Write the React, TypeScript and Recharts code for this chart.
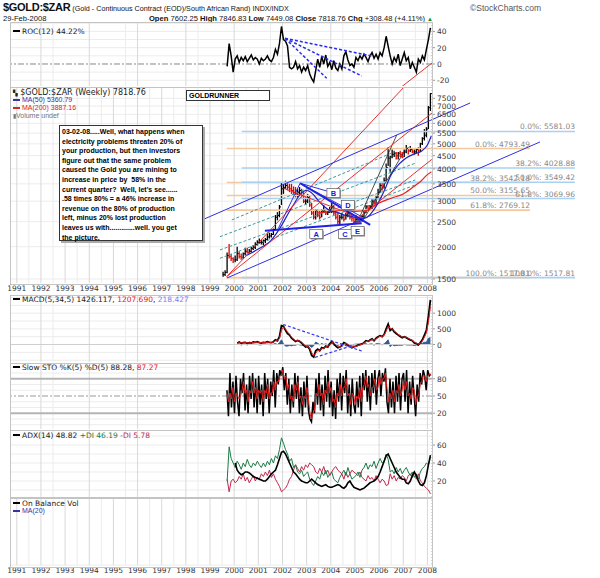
import React from "react";
import {
  ComposedChart,
  Line,
  Area,
  Bar,
  Scatter,
  XAxis,
  YAxis,
  CartesianGrid,
  ReferenceLine,
  ReferenceDot,
} from "recharts";

// ---- time axis ----
const T0 = 1990.76;
const T1 = 2008.19;
const years = [1991, 1992, 1993, 1994, 1995, 1996, 1997, 1998, 1999, 2000, 2001, 2002, 2003, 2004, 2005, 2006, 2007, 2008];
const halfYears = years.slice(0, -1).map((y) => y + 0.5);

// ---- weekly price, read monthly (Jul 1999 .. Feb 2008) ----
const priceHigh = [
  1600, 1620, 1900, 2050, 1870, 1820,
  1850, 2000, 1920, 1880, 1900, 1980, 1980, 1960, 2000, 2030, 2080, 2120,
  2150, 2120, 2130, 2160, 2250, 2260, 2260, 2350, 2650, 2720, 2900, 3550,
  3500, 3600, 3550, 3500, 3500, 3420, 3400, 3350, 3400, 3350, 3250, 3100,
  3200, 3150, 2950, 2800, 2800, 2800, 2750, 2800, 2900, 2800, 2800, 2850,
  2950, 2900, 2800, 2700, 2650, 2700, 2650, 2700, 2750, 2700, 2650, 2600,
  2650, 2600, 2600, 2650, 2750, 2900, 2900, 2900, 3050, 3050, 3150, 3350,
  3550, 3550, 3700, 4200, 4850, 4500, 4750, 4700, 4650, 4650, 4700, 4650,
  4750, 4950, 4850, 4900, 4800, 4750, 4800, 4850, 5050, 5300, 5700, 5800,
  7000, 7850,
];
const priceLow = [
  1530, 1540, 1580, 1800, 1760, 1730,
  1740, 1760, 1800, 1780, 1790, 1850, 1880, 1880, 1900, 1940, 1960, 2020,
  2050, 2040, 2030, 2060, 2120, 2150, 2170, 2220, 2330, 2530, 2600, 2900,
  3200, 3350, 3300, 3250, 3200, 3150, 3100, 3100, 3150, 3100, 2950, 2900,
  2950, 2850, 2650, 2550, 2550, 2600, 2550, 2600, 2700, 2650, 2650, 2700,
  2700, 2650, 2550, 2450, 2450, 2550, 2500, 2550, 2600, 2550, 2500, 2450,
  2450, 2450, 2480, 2500, 2580, 2700, 2750, 2750, 2800, 2880, 2900, 3050,
  3250, 3300, 3350, 3600, 4100, 3900, 4400, 4450, 4350, 4350, 4450, 4400,
  4450, 4600, 4550, 4650, 4600, 4550, 4600, 4500, 4650, 4950, 5150, 5300,
  5700, 6700,
];
const priceClose = [
  1560, 1590, 1850, 1830, 1800, 1780,
  1780, 1880, 1830, 1820, 1880, 1920, 1900, 1920, 1970, 1990, 2040, 2080,
  2080, 2080, 2110, 2130, 2180, 2200, 2230, 2330, 2600, 2640, 2850, 3350,
  3380, 3450, 3400, 3350, 3300, 3250, 3200, 3250, 3300, 3150, 3000, 3000,
  3100, 2900, 2700, 2600, 2750, 2650, 2600, 2750, 2750, 2700, 2720, 2780,
  2850, 2700, 2600, 2500, 2600, 2600, 2550, 2650, 2700, 2600, 2580, 2500,
  2550, 2500, 2550, 2620, 2700, 2850, 2800, 2850, 3000, 2950, 3100, 3250,
  3450, 3400, 3600, 4050, 4400, 4450, 4550, 4600, 4500, 4600, 4550, 4450,
  4650, 4800, 4700, 4750, 4650, 4650, 4750, 4700, 5000, 5250, 5400, 5700,
  6900, 7819,
];

const ma50T = [2000.5, 2000.75, 2001.0, 2001.25, 2001.5, 2001.75, 2002.0, 2002.25, 2002.5, 2002.75, 2003.0, 2003.25, 2003.5, 2003.75, 2004.0, 2004.25, 2004.5, 2004.75, 2005.0, 2005.25, 2005.5, 2005.75, 2006.0, 2006.25, 2006.5, 2006.75, 2007.0, 2007.25, 2007.5, 2007.75, 2008.0, 2008.16];
const ma50V = [1850, 1900, 1960, 2020, 2100, 2250, 2450, 2700, 2950, 3200, 3300, 3200, 3000, 2850, 2750, 2720, 2660, 2630, 2600, 2560, 2600, 2750, 3000, 3350, 3800, 4100, 4320, 4480, 4580, 4680, 4950, 5360];
const ma200T = [2003.4, 2003.75, 2004.0, 2004.5, 2005.0, 2005.5, 2005.75, 2006.0, 2006.5, 2007.0, 2007.5, 2007.75, 2008.0, 2008.16];
const ma200V = [2700, 2720, 2740, 2760, 2740, 2760, 2850, 2950, 3080, 3200, 3450, 3600, 3800, 3887];

// ---- ROC(12), monthly from Sep 1999 ----
const roc = [
  -3, 25, 10, -10,
  6, 10, 2, 8, 4, 9, 3, 7, 11, 5, 8, 6,
  0, 7, 4, 6, 10, 5, 3, 8, 18, 12, 25, 46,
  30, 28, 22, -4, -6, -4, 3, -6, -2, -10, -4, -8,
  -2, -12, -18, -22, -8, 6, -4, 9, 0, 11, -3, 2,
  -7, 4, -5, -8, 0, -6, 10, 15, 5, -2, 0, -4,
  8, 4, 10, 6, 12, 8, 3, 10, 14, 7, 12, 6,
  14, 10, 20, 34, 22, 10, 0, 8, 3, 12, -2, 6,
  14, 4, 8, -6, 2, -4, -10, 6, 2, 10, 5, 18,
  30, 44.22,
];

// ---- MACD(5,34,5), monthly from Feb 2000 ----
const macdLine = [
  50, 80, 40, 60, 70, 40, 60, 50, 80, 70, 90,
  60, 50, 70, 60, 90, 70, 60, 90, 150, 120, 250, 600,
  580, 450, 350, 300, 200, 150, 100, 130, 100, 50, -20, -80,
  -60, -150, -350, -400, -200, -150, -200, -100, -120, -50, -80, 20,
  100, 30, -50, -100, -80, -40, 60, 30, -20, -60, -100, -70,
  -50, -20, 0, 20, 60, 120, 100, 140, 180, 120, 200, 250,
  280, 250, 320, 500, 650, 450, 500, 400, 350, 300, 260, 220,
  250, 220, 180, 150, 120, 50, 30, -10, 60, 150, 300, 450,
  900, 1426.117,
];
const macdSignal = [
  40, 60, 55, 55, 62, 50, 55, 52, 65, 70, 80,
  70, 58, 62, 60, 75, 72, 65, 78, 120, 125, 190, 450,
  560, 500, 400, 330, 240, 170, 120, 125, 110, 70, 10, -50,
  -60, -110, -260, -360, -280, -190, -190, -130, -120, -70, -75, -10,
  60, 50, -10, -70, -85, -55, 20, 35, 0, -40, -80, -75,
  -60, -35, -10, 10, 40, 95, 105, 125, 160, 140, 175, 225,
  265, 260, 300, 420, 580, 520, 500, 440, 380, 320, 280, 240,
  245, 230, 195, 165, 135, 80, 45, 10, 35, 110, 230, 380,
  700, 1207.69,
];
const macdHist = [
  10, 20, -15, 5, 8, -10, 5, -2, 15, 0, 10,
  -10, -8, 8, 0, 15, -2, -5, 12, 30, -5, 60, 150,
  20, -50, -50, -30, -40, -20, -20, 5, -10, -20, -30, -30,
  0, -40, -90, -40, 80, 40, -10, 30, 0, 20, -5, 30,
  40, -20, -40, -30, 5, 15, 40, -5, -20, -20, -20, 5,
  10, 15, 10, 10, 20, 25, -5, 15, 20, -20, 25, 25,
  15, -10, 20, 80, 150, -70, 0, -40, -30, -20, -20, -20,
  5, -10, -15, -15, -15, -30, -15, -20, 25, 40, 70, 70,
  200, 218.427,
];

// ---- Slow STO, every 1/16 year from 1999.70 ----
const stoK = [
  60, 15, 90, 30, 75,
  20, 85, 40, 15, 80, 55, 90, 25, 70, 20, 85, 45, 90, 30, 80, 20,
  85, 35, 70, 15, 90, 45, 80, 20, 75, 50, 95, 30, 90, 70, 95, 85,
  100, 60, 90, 35, 80, 20, 70, 30, 90, 45, 85, 20, 65, 15, 75, 30,
  85, 25, 10, 5, 40, 20, 80, 35, 90, 25, 70, 15, 85, 40, 95, 30,
  75, 15, 60, 10, 80, 40, 90, 25, 85, 55, 95, 20, 70, 15, 80, 35,
  20, 75, 30, 85, 15, 90, 60, 95, 40, 85, 25, 90, 55, 95, 35, 80,
  95, 50, 90, 75, 98, 40, 20, 80, 30, 75, 20, 85, 40, 90, 25, 80,
  90, 40, 95, 20, 75, 35, 85, 50, 15, 70, 40, 90, 70, 95, 85, 60,
  95, 85, 88.28,
];
const stoD = [
  55, 40, 55, 45, 65,
  40, 55, 50, 45, 50, 60, 75, 55, 60, 40, 60, 55, 75, 55, 65, 45,
  60, 55, 60, 40, 60, 55, 70, 45, 55, 55, 75, 60, 75, 75, 85, 85,
  95, 80, 85, 60, 70, 45, 50, 40, 70, 60, 75, 45, 50, 35, 50, 45,
  65, 45, 20, 10, 20, 25, 55, 50, 70, 50, 55, 35, 60, 55, 75, 55,
  65, 40, 45, 30, 55, 50, 70, 50, 65, 65, 80, 50, 55, 35, 55, 50,
  35, 50, 45, 65, 40, 65, 70, 85, 65, 70, 50, 65, 65, 80, 60, 65,
  85, 70, 80, 80, 90, 65, 40, 55, 45, 60, 40, 60, 55, 70, 50, 60,
  75, 60, 75, 50, 55, 45, 65, 60, 35, 50, 50, 70, 75, 85, 85, 75,
  85, 88, 87.27,
];

// ---- ADX(14), monthly from Sep 1999 ----
const plusDI = [
  20, 58, 45, 40,
  35, 42, 38, 33, 40, 36, 44, 38, 35, 40, 37, 42,
  38, 35, 40, 36, 42, 38, 45, 40, 48, 45, 55, 68,
  62, 55, 50, 42, 45, 35, 38, 30, 28, 32, 25, 28,
  30, 22, 18, 15, 20, 25, 22, 30, 26, 32, 24, 28,
  30, 22, 20, 18, 24, 28, 32, 26, 35, 28, 22, 24,
  26, 30, 24, 32, 35, 40, 33, 38, 36, 42, 34, 40,
  45, 40, 42, 50, 44, 30, 32, 28, 35, 30, 34, 28,
  32, 35, 30, 26, 30, 24, 28, 22, 30, 34, 36, 40,
  38, 46.19,
];
const minusDI = [
  22, 8, 20, 22,
  18, 20, 25, 22, 28, 20, 24, 18, 22, 26, 20, 24,
  22, 28, 25, 30, 26, 32, 24, 28, 22, 18, 14, 8,
  10, 12, 16, 22, 25, 32, 38, 34, 30, 36, 32, 38,
  35, 40, 38, 36, 30, 28, 34, 30, 36, 28, 32, 26,
  30, 34, 36, 32, 30, 28, 22, 30, 24, 28, 32, 30,
  28, 26, 30, 24, 22, 20, 26, 22, 24, 20, 26, 22,
  18, 22, 20, 15, 16, 28, 22, 26, 20, 24, 22, 26,
  24, 20, 26, 28, 24, 30, 22, 28, 20, 18, 14, 12,
  10, 5.78,
];
const adx = [
  null, null, null, null,
  40, 32, 29, 27, 28, 30, 30, 29, 27, 25, 24, 23,
  22, 21, 20, 20, 22, 25, 28, 30, 32, 38, 45, 52,
  53, 50, 45, 40, 35, 30, 28, 25, 22, 20, 19, 18,
  18, 20, 22, 20, 18, 16, 15, 14, 15, 16, 14, 13,
  13, 14, 15, 16, 15, 13, 12, 14, 18, 20, 16, 13,
  12, 11, 10, 11, 12, 14, 16, 18, 19, 20, 22, 25,
  30, 36, 42, 48, 50, 45, 40, 35, 30, 27, 24, 22,
  22, 18, 17, 20, 26, 30, 26, 20, 16, 15, 18, 26,
  38, 48.82,
];

// ---- annotations: [t1, v1, t2, v2] ----
const blueLines = [
  [1998.67, 2537, 2009.77, 7195],
  [1999.7, 1513, 2012.66, 5083],
  [2001.83, 2356, 2002.73, 3519],
  [2002.73, 3519, 2003.83, 3285],
  [2002.73, 3519, 2005.28, 2613],
];
const blueThick = [
  [2002.73, 3519, 2005.63, 2427],
  [2001.27, 2306, 2005.28, 2464],
];
const redLines = [
  [1999.69, 1531, 2007.03, 8290],
  [1999.69, 1531, 2008.19, 6579],
  [2005.21, 2613, 2008.19, 4359],
  [2002.04, 3365, 2005.28, 2576],
];
const blackLines = [
  [2005.14, 2537, 2006.73, 5409],
  [2005.29, 2493, 2007.08, 4733],
];
const tealLines = [
  [1999.9, 2537, 2006.66, 4662],
  [1999.41, 2186, 2007.49, 4204],
  [1999.41, 1943, 2007.49, 3623],
  [1999.41, 1803, 2007.49, 3465],
];
const fibOrangeLevels = [4793.49, 3542.18, 3155.65, 2769.12, 1517.81];
const fibOrangeLabels = ["0.0%: 4793.49", "38.2%: 3542.18", "50.0%: 3155.65", "61.8%: 2769.12", "100.0%: 1517.81"];
const fibOrangeSpan = [1999.69, 2012.25];
const fibBlueLevels = [5581.03, 4028.88, 3549.42, 3069.96, 1517.81];
const fibBlueLabels = ["0.0%: 5581.03", "38.2%: 4028.88", "50.0%: 3549.42", "61.8%: 3069.96", "100.0%: 1517.81"];
const fibBlueSpan = [2000.31, 2014.11];
const boxLabels = ["A", "B", "C", "D", "E"];
const boxT = [2003.42, 2004.13, 2004.61, 2004.73, 2005.13];
const boxV = [2229, 3207, 2229, 2886, 2286];

const rocFan = [
  [2002.11, 31.5, 2003.83, -17.5],
  [2002.11, 31.5, 2005.28, -14.7],
  [2002.11, 31.5, 2005.7, 9.8],
];
const rocRed = [[2006.87, -29.4, 2008.19, 1.2]];
const macdDashed = [
  [2002.03, 640, 2005.28, -207],
  [2003.35, -410, 2004.95, -20],
];

// ---- tables ----
const priceRows = priceClose.map((c, i) => ({
  t: 1999.5 + (i + 0.5) / 12,
  range: [priceLow[i], priceHigh[i]],
  close: c,
  up: i === 0 || c >= priceClose[i - 1],
}));
const ma50Rows = ma50T.map((t, i) => ({ t, v: ma50V[i] }));
const ma200Rows = ma200T.map((t, i) => ({ t, v: ma200V[i] }));
const rocRows = roc.map((v, i) => ({ t: 1999 + (8 + i + 0.5) / 12, v }));
const macdRows = macdLine.map((m, i) => ({
  t: 2000 + (1 + i + 0.5) / 12,
  m,
  s: macdSignal[i],
  h: macdHist[i],
}));
const stoRows = stoK.map((k, i) => ({ t: 1999.7 + i / 16, k, d: stoD[i] }));
const adxRows = plusDI.map((p, i) => ({
  t: 1999 + (8 + i + 0.5) / 12,
  p,
  n: minusDI[i],
  a: adx[i],
}));

const SANS = "'DejaVu Sans', Verdana, sans-serif";
const ARIAL = "'Liberation Sans', Arial, sans-serif";
const W = 600;
const AXIS_W = 168;
const MARGIN = { top: 0, right: 0, bottom: 0, left: 11 };

const RightTick = (props: any) => (
  <text x={props.x} y={props.y + 3} fontSize={7.5} fontFamily={SANS} fill="#333">
    {props.payload.value}
  </text>
);
const YearTick = (props: any) => (
  <text x={props.x} y={props.y + 8} textAnchor="middle" fontSize={7.5} fontFamily={SANS} fill="#333">
    {props.payload.value}
  </text>
);

const yAxisProps = {
  orientation: "right" as const,
  width: AXIS_W,
  allowDataOverflow: true,
  tick: RightTick,
  tickSize: 3,
  tickLine: { stroke: "#999" },
  axisLine: { stroke: "#aaa", strokeDasharray: "1 2" },
  interval: 0 as const,
};

const seg = (s: number[], key: string, stroke: string, width = 1, dash?: string) => (
  <ReferenceLine
    key={key}
    segment={[
      { x: s[0], y: s[1] },
      { x: s[2], y: s[3] },
    ]}
    stroke={stroke}
    strokeWidth={width}
    strokeDasharray={dash}
    ifOverflow="visible"
  />
);

const Grids = ({ h }: { h: number[] }) => (
  <>
    <CartesianGrid verticalValues={halfYears} horizontalValues={h} stroke="#ececec" />
    <CartesianGrid verticalValues={years} horizontal={false} stroke="#d8d8d8" />
  </>
);

function RocChart() {
  return (
    <ComposedChart width={W} height={64} data={rocRows} margin={MARGIN}>
      <Grids h={[-20, -10, 10, 20, 30, 40, 50]} />
      <XAxis type="number" dataKey="t" domain={[T0, T1]} allowDataOverflow hide />
      <YAxis {...yAxisProps} domain={[-27, 51.5]} ticks={[-20, 0, 20, 40]} />
      <ReferenceLine y={0} stroke="#888" strokeDasharray="6 2 2 2" />
      {rocRed.map((s, i) => (
        <ReferenceLine
          key={"rr" + i}
          segment={[
            { x: s[0], y: s[1] },
            { x: s[2], y: s[3] },
          ]}
          stroke="#e83030"
          ifOverflow="hidden"
        />
      ))}
      <Line dataKey="v" stroke="#000" strokeWidth={1.5} dot={false} isAnimationActive={false} />
      {rocFan.map((s, i) => seg(s, "rf" + i, "#2a2aee", 1.5, "3 2"))}
    </ComposedChart>
  );
}

const BarShape = (props: any) => {
  const { x, y, width, height, payload } = props;
  const cx = x + width / 2;
  return (
    <line x1={cx} x2={cx} y1={y} y2={y + height} stroke={payload.up ? "#000" : "#e00000"} strokeWidth={1.3} />
  );
};
const CloseTick = (props: any) => (
  <line
    x1={props.cx}
    x2={props.cx + 1.6}
    y1={props.cy}
    y2={props.cy}
    stroke={props.payload.up ? "#000" : "#e00000"}
    strokeWidth={1}
  />
);

const fibLabel = (text: string) => (p: any) => (
  <text x={p.cx} y={p.cy - 2} textAnchor="end" fontSize={7.5} fontFamily={SANS} fill="#888">
    {text}
  </text>
);
const boxShape = (text: string) => (p: any) => (
  <g>
    <rect x={p.cx - 6} y={p.cy - 4} width={13} height={9} fill="#999" />
    <rect x={p.cx - 7} y={p.cy - 5} width={13} height={9} fill="#fff" stroke="#444" strokeWidth={0.6} />
    <text x={p.cx - 0.5} y={p.cy + 2.5} textAnchor="middle" fontSize={7.5} fontWeight={700} fontFamily={ARIAL} fill="#1a1ae0">
      {text}
    </text>
  </g>
);

function PriceChart() {
  const ticks = [1500, 2000, 2500, 3000, 3500, 4000, 4500, 5000, 5500, 6000, 6500, 7000, 7500];
  return (
    <ComposedChart width={W} height={207} data={priceRows} margin={MARGIN}>
      <Grids h={ticks} />
      <XAxis
        type="number"
        dataKey="t"
        domain={[T0, T1]}
        allowDataOverflow
        ticks={years}
        interval={0}
        height={11}
        tickSize={0}
        tickMargin={0}
        axisLine={false}
        tickLine={false}
        tick={YearTick}
      />
      <YAxis {...yAxisProps} scale="log" domain={[1447, 8295]} ticks={ticks} />
      {fibOrangeLevels.map((v, i) => seg([fibOrangeSpan[0], v, fibOrangeSpan[1], v], "fo" + i, "#f5c89c", 1.6))}
      {fibBlueLevels.map((v, i) => seg([fibBlueSpan[0], v, fibBlueSpan[1], v], "fb" + i, "#aad0f2", 1.6))}
      {tealLines.map((s, i) => seg(s, "tl" + i, "#3a9a9a", 1, "3 2"))}
      <Bar dataKey="range" barSize={1.4} shape={BarShape} isAnimationActive={false} />
      <Scatter dataKey="close" shape={CloseTick} isAnimationActive={false} />
      <Line data={ma200Rows} dataKey="v" type="monotone" stroke="#e82020" strokeWidth={1.2} dot={false} isAnimationActive={false} />
      <Line data={ma50Rows} dataKey="v" type="monotone" stroke="#2020c0" strokeWidth={1.2} dot={false} isAnimationActive={false} />
      {blackLines.map((s, i) => seg(s, "bk" + i, "#222", 0.8))}
      {redLines.map((s, i) => seg(s, "rd" + i, "#e83030", 1))}
      {blueLines.map((s, i) => seg(s, "bl" + i, "#3030e0", 1))}
      {blueThick.map((s, i) => seg(s, "bt" + i, "#2020e8", 2))}
      {fibOrangeLevels.map((v, i) => (
        <ReferenceDot key={"fol" + i} x={fibOrangeSpan[1]} y={v} r={0} ifOverflow="visible" shape={fibLabel(fibOrangeLabels[i])} />
      ))}
      {fibBlueLevels.map((v, i) => (
        <ReferenceDot key={"fbl" + i} x={fibBlueSpan[1]} y={v} r={0} ifOverflow="visible" shape={fibLabel(fibBlueLabels[i])} />
      ))}
      {boxLabels.map((b, i) => (
        <ReferenceDot key={"bx" + i} x={boxT[i]} y={boxV[i]} r={0} ifOverflow="visible" shape={boxShape(b)} />
      ))}
    </ComposedChart>
  );
}

function MacdChart() {
  return (
    <ComposedChart width={W} height={67} data={macdRows} margin={MARGIN}>
      <Grids h={[-500, -250, 250, 500, 750, 1000, 1250, 1500]} />
      <XAxis type="number" dataKey="t" domain={[T0, T1]} allowDataOverflow hide />
      <YAxis {...yAxisProps} domain={[-557, 1579]} ticks={[0, 500, 1000]} />
      <ReferenceLine y={0} stroke="#cfcfcf" />
      <Area dataKey="h" type="linear" baseValue={0} fill="#2d5f9e" fillOpacity={1} stroke="#2d5f9e" strokeWidth={1} isAnimationActive={false} />
      <Line dataKey="m" stroke="#000" strokeWidth={1.8} dot={false} isAnimationActive={false} />
      <Line dataKey="s" stroke="#e82020" strokeWidth={1} dot={false} isAnimationActive={false} />
      {macdDashed.map((s, i) => seg(s, "md" + i, "#3a3aee", 1.2, "3 2"))}
    </ComposedChart>
  );
}

function StoChart() {
  return (
    <ComposedChart width={W} height={66} data={stoRows} margin={MARGIN}>
      <Grids h={[0, 10, 30, 40, 60, 70, 90, 100]} />
      <XAxis type="number" dataKey="t" domain={[T0, T1]} allowDataOverflow hide />
      <YAxis {...yAxisProps} domain={[-7.4, 107.4]} ticks={[20, 50, 80]} />
      <ReferenceLine y={80} stroke="#b4b4b4" strokeWidth={2} />
      <ReferenceLine y={20} stroke="#b4b4b4" strokeWidth={2} />
      <ReferenceLine y={50} stroke="#999" strokeDasharray="6 2 2 2" />
      <Line dataKey="k" stroke="#000" strokeWidth={1.5} dot={false} isAnimationActive={false} />
      <Line dataKey="d" stroke="#e82020" strokeWidth={1} dot={false} isAnimationActive={false} />
    </ComposedChart>
  );
}

function AdxChart() {
  return (
    <ComposedChart width={W} height={67} data={adxRows} margin={MARGIN}>
      <Grids h={[10, 20, 30, 40, 50, 60, 70]} />
      <XAxis type="number" dataKey="t" domain={[T0, T1]} allowDataOverflow hide />
      <YAxis {...yAxisProps} domain={[2.2, 76.7]} ticks={[20, 40, 60]} />
      <Line dataKey="n" stroke="#c0284e" strokeWidth={1} dot={false} isAnimationActive={false} />
      <Line dataKey="p" stroke="#1e7a46" strokeWidth={1} dot={false} isAnimationActive={false} />
      <Line dataKey="a" stroke="#000" strokeWidth={1.6} dot={false} isAnimationActive={false} />
    </ComposedChart>
  );
}

function ObvChart() {
  return (
    <ComposedChart width={W} height={80} data={rocRows} margin={MARGIN}>
      <Grids h={[]} />
      <XAxis
        type="number"
        dataKey="t"
        domain={[T0, T1]}
        allowDataOverflow
        ticks={years}
        interval={0}
        height={12}
        tickSize={0}
        tickMargin={0}
        axisLine={false}
        tickLine={false}
        tick={YearTick}
      />
      <YAxis {...yAxisProps} domain={[0, 1]} ticks={[]} />
    </ComposedChart>
  );
}

const Dash = ({ color }: { color: string }) => (
  <span style={{ display: "inline-block", width: 7, height: 2, background: color, verticalAlign: "middle", marginRight: 2, marginBottom: 1 }} />
);

const abs = (left: number, top: number, extra: React.CSSProperties = {}): React.CSSProperties => ({
  position: "absolute",
  left,
  top,
  whiteSpace: "nowrap",
  ...extra,
});

const panelTops = [22, 87, 295, 363, 430, 497];
const panelBottoms = [86, 283, 362, 429, 497, 566];

export default function App() {
  const lbl: React.CSSProperties = { fontFamily: SANS, fontSize: 7.5, color: "#222", lineHeight: "9px" };
  return (
    <div style={{ position: "absolute", left: 0, top: 0, width: 600, height: 578, background: "#fff", overflow: "hidden" }}>
      {/* header */}
      <div style={abs(3, 1, { fontFamily: ARIAL, fontSize: 7.2, color: "#111", lineHeight: "13px" })}>
        <span style={{ fontWeight: 700, fontSize: 11, letterSpacing: -0.3 }}>$GOLD:$ZAR</span>{" "}
        (Gold - Continuous Contract (EOD)/South African Rand) INDX/INDX
      </div>
      <div style={abs(470, 3, { fontFamily: ARIAL, fontSize: 8.5, color: "#555" })}>©StockCharts.com</div>
      <div style={abs(3, 14, { fontFamily: ARIAL, fontSize: 7.6, color: "#111" })}>29-Feb-2008</div>
      <div style={abs(140, 14, { fontFamily: ARIAL, fontSize: 7.6, color: "#111", width: 293, textAlign: "right" })}>
        <b>Open</b> 7602.25 <b>High</b> 7846.83 <b>Low</b> 7449.08 <b>Close</b> 7818.76 <b>Chg</b> +308.48 (+4.11%){" "}
        <span style={{ color: "#1a8a1a", fontSize: 6 }}>▲</span>
      </div>

      <div style={abs(0, panelTops[0])}>
        <RocChart />
      </div>
      <div style={abs(0, panelTops[1])}>
        <PriceChart />
      </div>
      <div style={abs(0, panelTops[2])}>
        <MacdChart />
      </div>
      <div style={abs(0, panelTops[3])}>
        <StoChart />
      </div>
      <div style={abs(0, panelTops[4])}>
        <AdxChart />
      </div>
      <div style={abs(0, panelTops[5])}>
        <ObvChart />
      </div>

      {panelTops.map((t, i) => (
        <div
          key={i}
          style={{ position: "absolute", left: 10, top: t, width: 421, height: panelBottoms[i] - t, border: "1px solid #c4c4c4", pointerEvents: "none" }}
        />
      ))}

      {/* panel legends */}
      <div style={abs(13, 27, lbl)}>
        <Dash color="#000" />
        ROC(12) 44.22%
      </div>
      <div style={abs(13, 88, { ...lbl, fontSize: 8 })}>
        <span style={{ fontSize: 6 }}>▚</span> $GOLD:$ZAR (Weekly) 7818.76
      </div>
      <div style={abs(13, 96, { fontFamily: ARIAL, fontSize: 7, color: "#3333aa", lineHeight: "8px" })}>
        <Dash color="#3333aa" />
        MA(50) 5360.79
      </div>
      <div style={abs(13, 104, { fontFamily: ARIAL, fontSize: 7, color: "#e02020", lineHeight: "8px" })}>
        <Dash color="#e02020" />
        MA(200) 3887.16
      </div>
      <div style={abs(13, 112, { fontFamily: ARIAL, fontSize: 7, color: "#777", lineHeight: "8px" })}>
        <span style={{ fontSize: 6 }}>▮</span>Volume undef
      </div>
      <div style={abs(13, 295, lbl)}>
        <Dash color="#000" />
        MACD(5,34,5) 1426.117, <span style={{ color: "#e02020" }}>1207.690</span>,{" "}
        <span style={{ color: "#7d7df0" }}>218.427</span>
      </div>
      <div style={abs(13, 363, lbl)}>
        <Dash color="#000" />
        Slow STO %K(5) %D(5) 88.28, <span style={{ color: "#e02020" }}>87.27</span>
      </div>
      <div style={abs(13, 431, lbl)}>
        <Dash color="#000" />
        ADX(14) 48.82 <span style={{ color: "#1e7a46" }}>+DI 46.19</span> <span style={{ color: "#c0284e" }}>-DI 5.78</span>
      </div>
      <div style={abs(13, 499, lbl)}>
        <Dash color="#000" />
        On Balance Vol
      </div>
      <div style={abs(13, 507, { fontFamily: ARIAL, fontSize: 7, color: "#3333aa", lineHeight: "8px" })}>
        <Dash color="#3333aa" />
        MA(20)
      </div>

      {/* annotation boxes */}
      <div
        style={abs(186, 90, {
          width: 80,
          height: 9,
          border: "1px solid #333",
          background: "#fff",
          fontFamily: ARIAL,
          fontWeight: 700,
          fontSize: 7,
          lineHeight: "9px",
          paddingLeft: 2,
          boxSizing: "content-box",
        })}
      >
        GOLDRUNNER
      </div>
      <div
        style={abs(59, 125, {
          width: 139,
          height: 113,
          border: "1px solid #333",
          background: "#fff",
          boxShadow: "2px 2px 0 #aaa",
          fontFamily: ARIAL,
          fontWeight: 700,
          fontSize: 7,
          lineHeight: "9.6px",
          padding: "1px 1px 0 2px",
          color: "#000",
        })}
      >
        03-02-08.....Well, what happens when
        <br />
        electricity problems threaten 20% of
        <br />
        your production, but then investors
        <br />
        figure out that the same problem
        <br />
        caused the Gold you are mining to
        <br />
        increase in price by&nbsp; 58% in the
        <br />
        current quarter?&nbsp; Well, let's see......
        <br />
        .58 times 80% = a 46% increase in
        <br />
        revenue on the 80% of production
        <br />
        left, minus 20% lost production
        <br />
        leaves us with.............well. you get
        <br />
        the picture.
      </div>
    </div>
  );
}
